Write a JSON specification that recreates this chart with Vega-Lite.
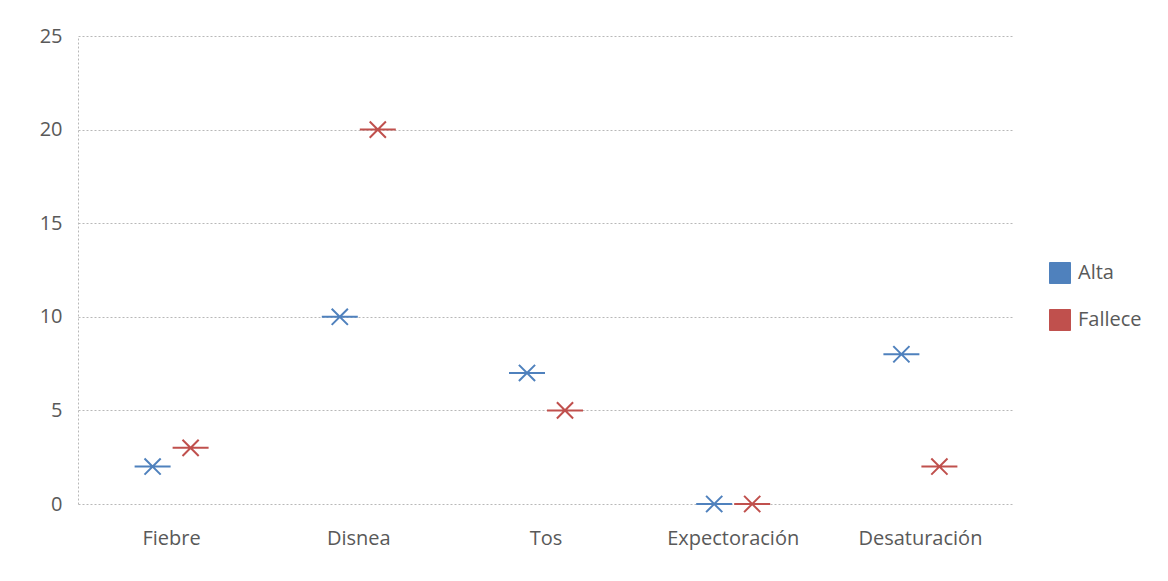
{
  "$schema": "https://vega.github.io/schema/vega-lite/v6.json",
  "width": 936,
  "height": 468,
  "autosize": {"type": "none"},
  "padding": {"left": 78, "top": 36, "right": 154, "bottom": 77},
  "background": "white",
  "config": {
    "view": {"stroke": null}
  },
  "data": {
    "values": [
      {"sintoma": "Fiebre", "serie": "Alta", "casos": 2},
      {"sintoma": "Fiebre", "serie": "Fallece", "casos": 3},
      {"sintoma": "Disnea", "serie": "Alta", "casos": 10},
      {"sintoma": "Disnea", "serie": "Fallece", "casos": 20},
      {"sintoma": "Tos", "serie": "Alta", "casos": 7},
      {"sintoma": "Tos", "serie": "Fallece", "casos": 5},
      {"sintoma": "Expectoración", "serie": "Alta", "casos": 0},
      {"sintoma": "Expectoración", "serie": "Fallece", "casos": 0},
      {"sintoma": "Desaturación", "serie": "Alta", "casos": 8},
      {"sintoma": "Desaturación", "serie": "Fallece", "casos": 2}
    ]
  },
  "mark": {
    "type": "point",
    "shape": "M-1,0L1,0M-0.45,-0.45L0.45,0.45M-0.45,0.45L0.45,-0.45",
    "size": 1296,
    "filled": true,
    "strokeWidth": 2,
    "opacity": 1
  },
  "encoding": {
    "x": {
      "field": "sintoma",
      "type": "nominal",
      "sort": null,
      "scale": {"paddingInner": 0, "paddingOuter": 0},
      "axis": {
        "title": null,
        "labelAngle": 0,
        "labelPadding": 24,
        "labelFont": "Open Sans",
        "labelFontSize": 20,
        "labelColor": "#595959",
        "ticks": false,
        "domain": false,
        "grid": false
      }
    },
    "xOffset": {
      "field": "serie",
      "type": "nominal",
      "scale": {"range": [74.6, 112.6], "paddingInner": 0, "paddingOuter": 0}
    },
    "y": {
      "field": "casos",
      "type": "quantitative",
      "scale": {"domain": [0, 25], "nice": false},
      "axis": {
        "title": null,
        "values": [0, 5, 10, 15, 20, 25],
        "labelPadding": 16,
        "labelFont": "Open Sans",
        "labelFontSize": 20,
        "labelColor": "#595959",
        "ticks": false,
        "grid": true,
        "gridColor": "#b8b8b8",
        "gridDash": [2, 2],
        "domainColor": "#b8b8b8",
        "domainDash": [2, 2]
      }
    },
    "color": {
      "field": "serie",
      "type": "nominal",
      "scale": {"domain": ["Alta", "Fallece"], "range": ["#4F81BD", "#C0504D"]},
      "legend": {
        "title": null,
        "orient": "none",
        "legendX": 971,
        "legendY": 226,
        "symbolType": "square",
        "symbolSize": 440,
        "symbolStrokeWidth": 1,
        "labelFontSize": 20,
        "labelColor": "#595959",
        "labelFont": "Open Sans",
        "labelOffset": 7,
        "rowPadding": 21
      }
    },
    "stroke": {
      "field": "serie",
      "type": "nominal",
      "scale": {"domain": ["Alta", "Fallece"], "range": ["#4F81BD", "#C0504D"]},
      "legend": null
    }
  }
}
